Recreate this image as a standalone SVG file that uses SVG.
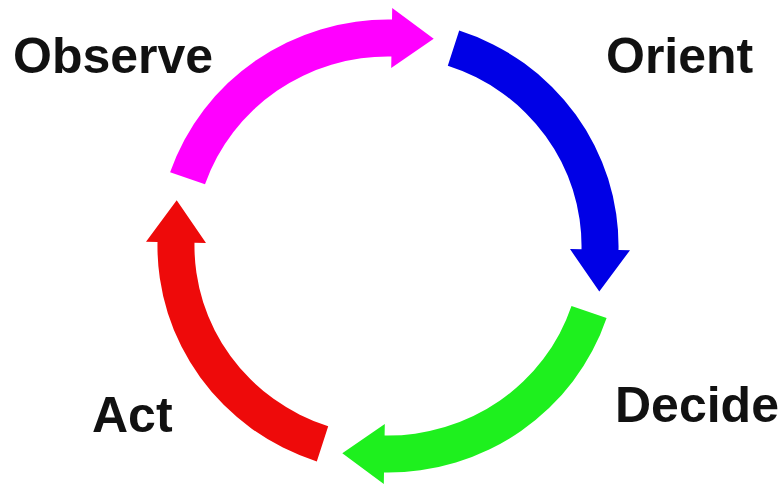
<svg xmlns="http://www.w3.org/2000/svg" width="784" height="485" viewBox="0 0 784 485">
  <style>
    .lbl { font-family: "Liberation Sans", Arial, sans-serif; font-weight: bold; font-size: 50px; fill: #111111; }
    .arrow { stroke: none; }
  </style>
  <rect x="0" y="0" width="784" height="485" fill="#ffffff"/>
  <g id="connectors">
    <path id="observe-to-orient" class="arrow" fill="#FF00FF" d="M170.1,172.3 A230.5,226.5 0 0 1 392,19.5 L392.2,8 L433.7,38.7 L391.2,68 L391.4,56.5 A193.5,189.5 0 0 0 205,184.3 Z"/>
    <path id="orient-to-decide" class="arrow" fill="#0000E6" d="M459.2,30.6 A230.5,226.5 0 0 1 618.5,250 L630,250.2 L599.3,291.6 L570,249.1 L581.5,249.3 A193.5,189.5 0 0 0 447.8,65.8 Z"/>
    <path id="decide-to-act" class="arrow" fill="#1EF01E" d="M606.6,317.9 A230.5,226.5 0 0 1 384,472.5 L383.8,484 L342.3,453.3 L384.8,424 L384.6,435.5 A193.5,189.5 0 0 0 571.5,306.1 Z"/>
    <path id="act-to-observe" class="arrow" fill="#EE0A0A" d="M316.8,461.4 A230.5,226.5 0 0 1 157.5,242 L146,241.8 L176.7,200.3 L206,242.9 L194.5,242.7 A193.5,189.5 0 0 0 328.2,426.2 Z"/>
  </g>
  <g id="observe"><text class="lbl" x="13" y="73">Observe</text></g>
  <g id="orient"><text class="lbl" x="606" y="73">Orient</text></g>
  <g id="decide"><text class="lbl" x="615" y="422">Decide</text></g>
  <g id="act"><text class="lbl" x="92" y="432">Act</text></g>
</svg>
